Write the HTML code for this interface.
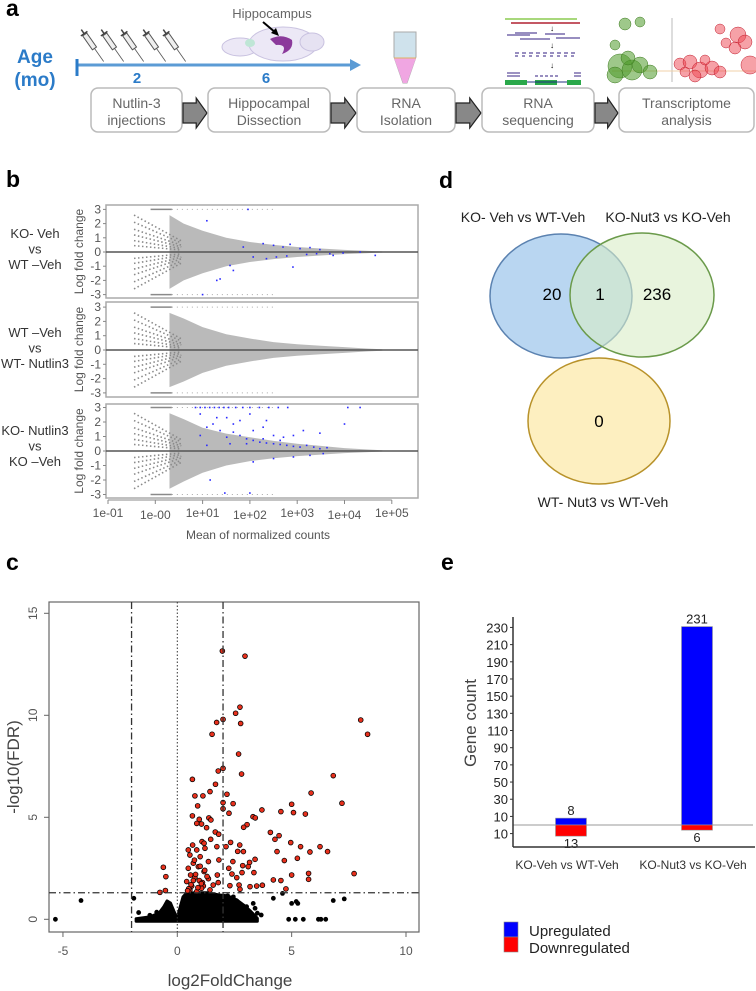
<!DOCTYPE html>
<html><head><meta charset="utf-8"><style>
html,body{margin:0;padding:0;background:#fff}
svg{display:block;font-family:"Liberation Sans",sans-serif}
.pl{font-weight:bold;font-size:23px;fill:#000}
.bx{fill:#fff;stroke:#bbb;stroke-width:1.5}
.bt{font-size:14px;fill:#666;text-anchor:middle}
</style></head><body>
<svg id="fig" width="756" height="991" viewBox="0 0 756 991" xmlns="http://www.w3.org/2000/svg">
<text class="pl" x="6" y="16">a</text>
<text class="pl" x="6" y="187">b</text>
<text class="pl" x="6" y="570">c</text>
<text class="pl" x="439" y="188">d</text>
<text class="pl" x="441" y="570">e</text>

<g>
 <text x="35" y="63" text-anchor="middle" font-size="19" font-weight="bold" fill="#2b7bc8">Age</text>
 <text x="35" y="86" text-anchor="middle" font-size="19" font-weight="bold" fill="#2b7bc8">(mo)</text>
 <line x1="77" y1="65" x2="352" y2="65" stroke="#5b9bd5" stroke-width="3"/>
 <polygon points="350,59 361,65 350,71" fill="#5b9bd5"/>
 <line x1="77" y1="59" x2="77" y2="76" stroke="#2b7bc8" stroke-width="3"/>
 <text x="137" y="83" text-anchor="middle" font-size="15" font-weight="bold" fill="#2b7bc8">2</text>
 <text x="266" y="83" text-anchor="middle" font-size="15" font-weight="bold" fill="#2b7bc8">6</text>
 <g id="syringes"></g>
 <text x="272" y="18" text-anchor="middle" font-size="13" fill="#666">Hippocampus</text>
 <g>
  <ellipse cx="240" cy="47" rx="18" ry="9" fill="#ece8f6" stroke="#c9c2e0"/>
  <ellipse cx="283" cy="44" rx="34" ry="17" fill="#ece8f6" stroke="#c9c2e0"/>
  <ellipse cx="312" cy="42" rx="12" ry="9" fill="#e6e2f2" stroke="#c9c2e0"/>
  <ellipse cx="250" cy="43" rx="5" ry="4" fill="#bfe6d6"/>
  <path d="M270,39 Q282,33 292,40 Q294,50 282,54 Q288,44 276,45 Z" fill="#8b3a9b"/>
  <line x1="263" y1="22" x2="276" y2="33" stroke="#000" stroke-width="2"/>
  <polygon points="279,36 271,33 276,28" fill="#000"/>
 </g>
 <g>
  <path d="M394,32 L416,32 L416,57 L407,83 L403,83 L394,57 Z" fill="#cfe2ec" stroke="#aaa"/>
  <path d="M394,58 L416,58 L407,83 L403,83 Z" fill="#f0a6e2"/>
  <line x1="394" y1="58" x2="416" y2="58" stroke="#e0b060"/>
 </g>
 <g>
  <line x1="505" y1="19" x2="577" y2="19" stroke="#8ccc50" stroke-width="1.5"/>
  <line x1="511" y1="23" x2="580" y2="23" stroke="#b02030" stroke-width="1.5"/>
  <g stroke="#5a4a9a" stroke-width="1.2">
   <line x1="507" y1="35" x2="530" y2="35"/><line x1="515" y1="33" x2="537" y2="33"/><line x1="545" y1="34" x2="565" y2="34"/><line x1="556" y1="38" x2="580" y2="38"/><line x1="520" y1="39" x2="550" y2="39"/>
   <line x1="515" y1="53" x2="578" y2="53" stroke-dasharray="4 3"/><line x1="515" y1="56" x2="578" y2="56" stroke-dasharray="3 4"/>
   <line x1="507" y1="73" x2="520" y2="73"/><line x1="507" y1="76" x2="520" y2="76"/><line x1="535" y1="76" x2="560" y2="76" stroke-dasharray="3 2"/><line x1="574" y1="73" x2="581" y2="73"/><line x1="574" y1="76" x2="581" y2="76"/>
  </g>
  <rect x="505" y="80" width="22" height="5" fill="#2aa84a"/><rect x="535" y="80" width="22" height="5" fill="#2aa84a"/><rect x="567" y="80" width="14" height="5" fill="#2aa84a"/>
  <line x1="527" y1="82" x2="567" y2="82" stroke="#203080"/>
  <text x="552" y="31" font-size="8" text-anchor="middle">↓</text><text x="552" y="48" font-size="8" text-anchor="middle">↓</text><text x="552" y="68" font-size="8" text-anchor="middle">↓</text>
 </g>
 <g id="trx">
  <line x1="672" y1="18" x2="672" y2="82" stroke="#ddd" stroke-width="2"/>
  <line x1="612" y1="71" x2="756" y2="71" stroke="#f0d0a8"/>
 </g>
 <g id="steps"></g>
</g>

<g id="ma"></g>
<g>
 <text x="523" y="222" text-anchor="middle" font-size="14" fill="#222">KO- Veh vs WT-Veh</text>
 <text x="668" y="222" text-anchor="middle" font-size="14" fill="#222">KO-Nut3 vs KO-Veh</text>
 <text x="603" y="507" text-anchor="middle" font-size="14" fill="#222">WT- Nut3 vs WT-Veh</text>
 <ellipse cx="561" cy="296" rx="71" ry="62" fill="#b9d6f1" stroke="#5b82b0" stroke-width="1.5"/>
 <ellipse cx="642" cy="295" rx="72" ry="62" fill="#d9edc6" fill-opacity="0.6" stroke="#6a9a4a" stroke-width="1.5"/>
 <ellipse cx="599" cy="421" rx="71" ry="63" fill="#fdefc0" stroke="#b8922a" stroke-width="1.5"/>
 <text x="552" y="300" text-anchor="middle" font-size="17">20</text>
 <text x="600" y="300" text-anchor="middle" font-size="17">1</text>
 <text x="657" y="300" text-anchor="middle" font-size="17">236</text>
 <text x="599" y="427" text-anchor="middle" font-size="17">0</text>
</g>
<g id="volc"></g>
<g id="bars"></g>
</svg>
<script>
const maLabels = [["KO- Veh","vs","WT –Veh"],["WT –Veh","vs","WT- Nutlin3"],["KO- Nutlin3","vs","KO –Veh"]];
const maTickLabels = ["1e-01","1e-00","1e+01","1e+02","1e+03","1e+04","1e+05"];
const maYTicks = [3,2,1,0,-1,-2,-3];
const envX = [0.3,0.6,1.0,1.5,2.0,2.5,3.0,3.5,4.0,4.5,4.8];
const envUp1 = [2.6,2.0,1.5,1.0,0.7,0.5,0.35,0.25,0.15,0.08,0.04];
const envLo1 = [2.6,2.0,1.5,1.0,0.7,0.5,0.35,0.25,0.15,0.08,0.04];
const envUp2 = [2.6,2.2,1.6,1.1,0.8,0.55,0.4,0.3,0.2,0.1,0.05];
const envLo2 = [2.6,2.2,1.6,1.1,0.8,0.55,0.4,0.3,0.2,0.1,0.05];
const envUp3 = [2.6,2.2,1.6,1.2,0.95,0.7,0.5,0.35,0.2,0.1,0.05];
const envLo3 = [2.6,2.1,1.5,1.0,0.7,0.5,0.35,0.25,0.15,0.08,0.04];
const streakStart = [2.6,2.1,1.6,1.2,0.8,0.45];
const blue1X = [1.96,1.09,2.28,2.5,2.7,2.85,3.06,3.27,3.48,3.69,3.76,3.97,2.07,2.35,2.56,2.78,2.91,1.65,1.58,1.3,1.37,1.0,1.86,3.2,3.41,4.65,4.33];
const blue1Y = [3,2.2,0.59,0.47,0.35,0.54,0.24,0.31,0.17,-0.12,-0.24,-0.07,-0.35,-0.47,-0.35,-0.28,-1.06,-1.3,-0.95,-2.0,-1.9,-3,0.35,-0.17,-0.12,-0.24,0];
const blue3X = [0.85,0.95,1.05,1.15,1.25,1.35,1.45,1.55,1.7,1.85,2.0,2.2,2.4,2.6,2.8,4.07,4.33,0.95,1.22,1.37,1.51,1.65,1.79,1.93,2.07,2.21,2.35,2.5,2.64,2.78,2.92,3.06,3.2,3.35,3.48,3.63,1.3,1.65,1.79,2.07,2.28,2.5,2.71,2.92,3.13,3.48,4.0,1.93,2.28,2.64,1.58,0.95,1.09,1.09,1.51,2.0,2.35,2.92,3.27,3.55,2.5,2.07,1.16,1.47,2.0];
const blue3Y = [3,3,3,3,3,3,3,3,3,3,3,3,3,3,3,3,3,2.55,1.86,1.41,0.95,1.3,1.07,0.84,0.73,0.61,0.55,0.5,0.45,0.39,0.32,0.27,0.39,0.27,0.16,0.23,2.3,1.86,2.1,1.41,1.64,1.07,0.95,1.07,1.41,1.23,1.86,0.5,0.84,0.73,0.5,1.07,0.39,1.64,2.3,2.55,2.1,-0.41,-0.3,-0.18,-0.52,-0.75,-2.0,-2.9,-2.9];

const volcXTicks = [-5,0,5,10];
const volcYTicks = [0,5,10,15];
const redX = [1.97,2.96,2.74,2.55,2.0,1.72,2.77,1.52,8.02,8.32,2.68,2.0,1.79,2.81,6.82,0.66,1.67,1.43,0.77,1.12,2.17,5.85,2.0,2.44,7.2,5.0,0.89,2.0,3.7,4.53,5.08,5.6,2.26,0.66,3.31,3.41,0.96,1.38,1.47,0.85,1.06,3.05,1.28,2.9,1.66,4.07,1.81,4.45,4.27,1.46,1.08,2.33,1.17,4.96,2.73,0.67,1.73,2.13,5.39,6.24,0.48,0.85,1.21,2.64,2.89,4.36,5.8,6.57,0.55,1.0,5.25,3.4,1.82,1.36,3.16,4.68,2.43,0.7,-0.61,2.86,3.1,2.25,0.48,0.92,1.17,2.83,3.35,5.74,7.73,2.39,5.0,0.58,1.75,-0.5,2.6,0.77,1.36,4.2,4.53,5.74,0.41,0.96,1.79,2.3,3.18,3.47,3.72,2.7,0.63,1.14,1.57,4.75,-0.52,-0.76,2.74,0.55,0.85,1.06,1.43,0.5,0.6,0.7,0.8,0.9,1.0,1.1,1.2,0.45,0.75,1.05,1.3];
const redY = [13.15,12.9,10.4,10.1,9.8,9.65,9.6,9.07,9.77,9.07,8.1,7.4,7.27,7.12,7.04,6.86,6.62,6.26,6.05,6.05,6.13,6.19,5.72,5.67,5.69,5.64,5.56,5.42,5.36,5.28,5.23,5.16,5.2,5.07,5.03,4.97,4.9,4.97,4.87,4.7,4.67,4.64,4.49,4.51,4.28,4.26,4.17,4.1,3.92,3.92,3.81,3.77,3.73,3.76,3.64,3.64,3.56,3.56,3.56,3.56,3.4,3.4,3.48,3.33,3.32,3.32,3.3,3.32,3.15,3.07,2.99,2.94,2.91,2.83,2.79,2.88,2.83,2.75,2.55,2.63,2.58,2.5,2.5,2.58,2.34,2.29,2.29,2.25,2.24,2.22,2.17,2.17,2.17,2.09,2.04,2.06,1.99,1.93,1.9,1.96,1.85,1.9,1.8,1.65,1.6,1.63,1.67,1.68,1.63,1.63,1.68,1.49,1.41,1.32,1.47,1.44,1.36,1.52,1.44,1.5,1.7,1.9,2.2,1.55,2.6,1.8,2.4,1.4,2.9,1.75,2.1];
const blackX = [-5.33,-4.21,-1.9,-1.69,4.2,4.6,5.0,5.2,5.27,6.82,7.3,4.87,5.16,5.51,6.17,6.28,6.49,3.67,2.96,3.18,3.4,3.32,3.03,2.84,2.45,-1.2,-0.9,3.5,2.6,2.2,3.0,1.6];
const blackY = [0,0.92,1.03,0.33,1.03,1.27,0.78,0.87,0.78,0.92,1.0,0,0,0,0,0,0,0.21,0,0,0.54,0.78,0.62,0.16,1.1,0.2,0.35,0.3,0.9,1.15,0.4,0.05];
const cloudX = [-1.8,-1.2,-0.8,-0.6,-0.45,-0.3,-0.15,0,0.1,0.25,0.4,0.8,1.3,1.8,2.2,2.6,2.9,3.2,3.5];
const cloudY = [0.03,0.12,0.3,0.6,0.9,0.8,0.4,0.05,0.5,1.1,1.28,1.3,1.3,1.2,1.15,0.95,0.7,0.4,0.05];

const barCats = ["KO-Veh vs WT-Veh","KO-Nut3 vs  KO-Veh"];
const upVals = [8,231];
const downVals = [13,6];
const barUpTicks = [10,30,50,70,90,110,130,150,170,190,210,230];
const barDownTicks = [10];

const NS="http://www.w3.org/2000/svg";
function mk(tag,attrs,parent,txt){const e=document.createElementNS(NS,tag);for(const k in attrs)e.setAttribute(k,attrs[k]);if(txt!==undefined)e.textContent=txt;parent.appendChild(e);return e;}

(function(){
 const sg=document.getElementById('syringes');
 const sx=[83,103,123,145,165];
 sx.forEach(function(x,i){
  const g=mk('g',{transform:'translate('+x+',32) rotate(-35)'},sg);
  
  
  mk('rect',{x:-2.5,y:3,width:5,height:17,fill:'#eee',stroke:'#555','stroke-width':1},g);
  mk('line',{x1:-4,y1:2,x2:4,y2:2,stroke:'#444','stroke-width':1.5},g);
  mk('line',{x1:0,y1:-3,x2:0,y2:2,stroke:'#444','stroke-width':1.5},g);
  mk('line',{x1:0,y1:20,x2:0,y2:36,stroke:'#555','stroke-width':0.8},g);
 });
 const tg=document.getElementById('trx');
 const gC=[[625,24,6],[640,22,5],[615,45,5],[620,66,12],[632,70,10],[640,65,8],[650,72,7],[615,75,8],[628,58,7]];
 const rC=[[720,29,5],[738,35,8],[745,42,7],[726,43,5],[750,65,9],[680,64,6],[690,62,7],[700,70,8],[712,68,7],[695,76,6],[705,60,5],[685,72,5],[720,72,6],[735,48,6]];
 gC.forEach(function(c){const e=mk('circle',{cx:c[0],cy:c[1],r:c[2],fill:'#4f9a2a','fill-opacity':0.55,stroke:'#3d7a20','stroke-width':0.5},tg);});
 rC.forEach(function(c){const e=mk('circle',{cx:c[0],cy:c[1],r:c[2],fill:'#ee4450','fill-opacity':0.5,stroke:'#c02030','stroke-width':0.5},tg);});
 const st=document.getElementById('steps');
 const boxes=[[91,182,"Nutlin-3","injections"],[208,330,"Hippocampal","Dissection"],[357,455,"RNA","Isolation"],[482,594,"RNA","sequencing"],[619,754,"Transcriptome","analysis"]];
 boxes.forEach(function(b,i){
  const r=mk('rect',{x:b[0],y:88,width:b[1]-b[0],height:44,rx:7,class:'bx'},st);
  
  
  const cx=(b[0]+b[1])/2;
  const t1=mk('text',{x:cx,y:108,class:'bt'},st,b[2]);
  
  
  const t2=mk('text',{x:cx,y:125,class:'bt'},st,b[3]);
  
  
  if(i<4){
   const x0=b[1]+1, x1=boxes[i+1][0]-1, xm=x0+(x1-x0)*0.55;
   const a=mk('polygon',{points:x0+',103 '+xm+',103 '+xm+',98 '+x1+',113 '+xm+',128 '+xm+',123 '+x0+',123',fill:'#888',stroke:'#222','stroke-width':1.2},st);
   
   
  }
 });
})();

(function(){
 const g=document.getElementById('ma');
 const L=106,R=418;
 const xs=function(lg){return 108+(lg+1)*47.3;};
 const panels=[{top:205,bot:298,zero:252,s:14.2,up:envUp1,lo:envLo1,bx:blue1X,by:blue1Y,ly:233},
               {top:302,bot:397,zero:350,s:14.3,up:envUp2,lo:envLo2,bx:[],by:[],ly:332},
               {top:404,bot:498,zero:451,s:14.5,up:envUp3,lo:envLo3,bx:blue3X,by:blue3Y,ly:430}];
 panels.forEach(function(p,pi){
  const ys=function(v){return p.zero-v*p.s;};
  const pg=mk('g',{},g);
  
  
  const fr=mk('rect',{x:L,y:p.top,width:R-L,height:p.bot-p.top,fill:'#fff',stroke:'#aaa','stroke-width':1.5},pg);
  
  
  let pts=[];
  for(let i=0;i<envX.length;i++)pts.push(xs(envX[i])+','+ys(p.up[i]));
  for(let i=envX.length-1;i>=0;i--)pts.push(xs(envX[i])+','+ys(-p.lo[i]));
  const cl=mk('polygon',{points:pts.join(' '),fill:'#b2b2b2','fill-opacity':0.9},pg);
  
  
  streakStart.forEach(function(v){
   [1,-1].forEach(function(sg){
    const l=mk('line',{x1:xs(-0.45),y1:ys(sg*v),x2:xs(0.55),y2:ys(sg*v*0.3),stroke:'#8a8a8a','stroke-width':1.6,'stroke-dasharray':'1.5 2.5'},pg);
    
    
   });
  });
  [3,-3].forEach(function(v){
   const l=mk('line',{x1:xs(-0.1),y1:ys(v),x2:xs(0.35),y2:ys(v),stroke:'#8a8a8a','stroke-width':1.5},pg);
   
   
   const l2=mk('line',{x1:xs(0.35),y1:ys(v),x2:xs(2.5),y2:ys(v),stroke:'#aaa','stroke-width':1,'stroke-dasharray':'1 4'},pg);
   
   
  });
  const zl=mk('line',{x1:L,y1:ys(0),x2:R,y2:ys(0),stroke:'#555','stroke-width':1.5},pg);
  
  
  for(let i=0;i<p.bx.length;i++){
   const c=mk('rect',{x:xs(p.bx[i])-0.8,y:ys(p.by[i])-0.8,width:1.6,height:1.6,fill:'#2a2aff'},pg);
   
   
  }
  maYTicks.forEach(function(t){
   const tl=mk('line',{x1:L-3,y1:ys(t),x2:L,y2:ys(t),stroke:'#888'},pg);
   
   
   const tx=mk('text',{x:L-5,y:ys(t)+4,'text-anchor':'end','font-size':12,fill:'#555'},pg,String(t));
   
   
  });
  const yl=mk('text',{x:0,y:0,transform:'translate(83,'+((p.top+p.bot)/2)+') rotate(-90)','text-anchor':'middle','font-size':12,fill:'#555'},pg,'Log fold change');
  
  
  maLabels[pi].forEach(function(s,k){
   const t=mk('text',{x:35,y:p.ly+k*15.5+5,'text-anchor':'middle','font-size':13,fill:'#333'},pg,s);
   
   
  });
 });
 const ax=mk('line',{x1:xs(-1),y1:500,x2:xs(5),y2:500,stroke:'#888'},g);
 
 
 maTickLabels.forEach(function(s,i){
  const tl=mk('line',{x1:xs(i-1),y1:500,x2:xs(i-1),y2:504,stroke:'#888'},g);
  
  
  const t=mk('text',{x:xs(i-1),y:517+(i%2?2:0),'text-anchor':'middle','font-size':12,fill:'#555'},g,s);
  
  
 });
 const xt=mk('text',{x:258,y:539,'text-anchor':'middle','font-size':12,fill:'#555'},g,'Mean of normalized counts');
 
 
})();

(function(){
 const g=document.getElementById('volc');
 const L=49,R=419,T=602,B=932;
 const xs=function(v){return 177.3+v*22.87;};
 const ys=function(v){return 919.3-v*20.4;};
 const fr=mk('rect',{x:L,y:T,width:R-L,height:B-T,fill:'#fff',stroke:'#666','stroke-width':1.2},g);
 
 
 let pts=[];
 for(let i=0;i<cloudX.length;i++)pts.push(xs(cloudX[i])+','+ys(cloudY[i]));
 for(let i=cloudX.length-1;i>=0;i--)pts.push(xs(cloudX[i])+','+(ys(0)+2));
 const cl=mk('polygon',{points:pts.join(' '),fill:'#000',stroke:'#000','stroke-width':3,'stroke-linejoin':'round'},g);
 
 
 for(let i=0;i<blackX.length;i++){
  const c=mk('circle',{cx:xs(blackX[i]),cy:ys(blackY[i]),r:2.4,fill:'#000'},g);
  
  
 }
 for(let i=0;i<redX.length;i++){
  const c=mk('circle',{cx:xs(redX[i]),cy:ys(redY[i]),r:2.4,fill:'#e8301c',stroke:'#000','stroke-width':0.8},g);
  
  
 }
 [-2,2].forEach(function(v){
  const l=mk('line',{x1:xs(v),y1:T,x2:xs(v),y2:B,stroke:'#333','stroke-width':1.3,'stroke-dasharray':'7 3 1.5 3'},g);
  
  
 });
 const z=mk('line',{x1:xs(0),y1:T,x2:xs(0),y2:B,stroke:'#333','stroke-width':1,'stroke-dasharray':'1.5 2'},g);
 
 
 const h=mk('line',{x1:L,y1:ys(1.3),x2:R,y2:ys(1.3),stroke:'#333','stroke-width':1.3,'stroke-dasharray':'7 3 1.5 3'},g);
 
 
 volcXTicks.forEach(function(t){
  const tl=mk('line',{x1:xs(t),y1:B,x2:xs(t),y2:B+5,stroke:'#666'},g);
  
  
  const tx=mk('text',{x:xs(t),y:955,'text-anchor':'middle','font-size':12,fill:'#555'},g,String(t));
  
  
 });
 volcYTicks.forEach(function(t){
  const tl=mk('line',{x1:L-5,y1:ys(t),x2:L,y2:ys(t),stroke:'#666'},g);
  
  
  const tx=mk('text',{x:0,y:0,transform:'translate(37,'+ys(t)+') rotate(-90)','text-anchor':'middle','font-size':12,fill:'#555'},g,String(t));
  
  
 });
 const yl=mk('text',{x:0,y:0,transform:'translate(19,767) rotate(-90)','text-anchor':'middle','font-size':17,fill:'#444'},g,'-log10(FDR)');
 
 
 const xl=mk('text',{x:230,y:986,'text-anchor':'middle','font-size':17,fill:'#444'},g,'log2FoldChange');
 
 
})();

(function(){
 const g=document.getElementById('bars');
 const zero=825,k=0.859,AX=513;
 const yUp=function(v){return zero-v*k;};
 const yDn=function(v){return zero+v*k;};
 const cx=[571,697],bw=31;
 const zl=mk('line',{x1:AX,y1:zero,x2:753,y2:zero,stroke:'#999','stroke-width':1},g);
 
 
 for(let i=0;i<barCats.length;i++){
  const u=mk('rect',{x:cx[i]-bw/2,y:yUp(upVals[i]),width:bw,height:upVals[i]*k,fill:'#0000ff',stroke:'#999','stroke-width':0.6},g);
  
  
  const d=mk('rect',{x:cx[i]-bw/2,y:zero,width:bw,height:downVals[i]*k,fill:'#ff0000',stroke:'#999','stroke-width':0.6},g);
  
  
  const ut=mk('text',{x:cx[i],y:yUp(upVals[i])-3,'text-anchor':'middle','font-size':13,fill:'#222'},g,String(upVals[i]));
  
  
  const dt=mk('text',{x:cx[i],y:yDn(downVals[i])+12,'text-anchor':'middle','font-size':13,fill:'#222'},g,String(downVals[i]));
  
  
  const cl=mk('text',{x:cx[i]-4,y:869,'text-anchor':'middle','font-size':12,fill:'#333'},g,barCats[i]);
  
  
 }
 const ya=mk('line',{x1:AX,y1:617,x2:AX,y2:847,stroke:'#333','stroke-width':1.5},g);
 
 
 const xa=mk('line',{x1:AX,y1:847,x2:755,y2:847,stroke:'#333','stroke-width':1.5},g);
 
 
 barUpTicks.forEach(function(t){
  const tl=mk('line',{x1:AX-3,y1:yUp(t),x2:AX,y2:yUp(t),stroke:'#333'},g);
  
  
  const tx=mk('text',{x:AX-5,y:yUp(t)+5,'text-anchor':'end','font-size':13,fill:'#222'},g,String(t));
  
  
 });
 barDownTicks.forEach(function(t){
  const tl=mk('line',{x1:AX-3,y1:yDn(t),x2:AX,y2:yDn(t),stroke:'#333'},g);
  
  
  const tx=mk('text',{x:AX-5,y:yDn(t)+5,'text-anchor':'end','font-size':13,fill:'#222'},g,String(t));
  
  
 });
 const yl=mk('text',{x:0,y:0,transform:'translate(476,723) rotate(-90)','text-anchor':'middle','font-size':17,fill:'#444'},g,'Gene count');
 
 
 const lg=mk('g',{},g);
 
 
 const s1=mk('rect',{x:504,y:922,width:14,height:15,fill:'#0000ff',stroke:'#888','stroke-width':0.6},lg);
 
 
 const s2=mk('rect',{x:504,y:937,width:14,height:15,fill:'#ff0000',stroke:'#888','stroke-width':0.6},lg);
 
 
 const t1=mk('text',{x:529,y:936,'font-size':15,fill:'#222'},lg,'Upregulated');
 
 
 const t2=mk('text',{x:529,y:953,'font-size':15,fill:'#222'},lg,'Downregulated');
 
 
})();
</script>
</body></html>
